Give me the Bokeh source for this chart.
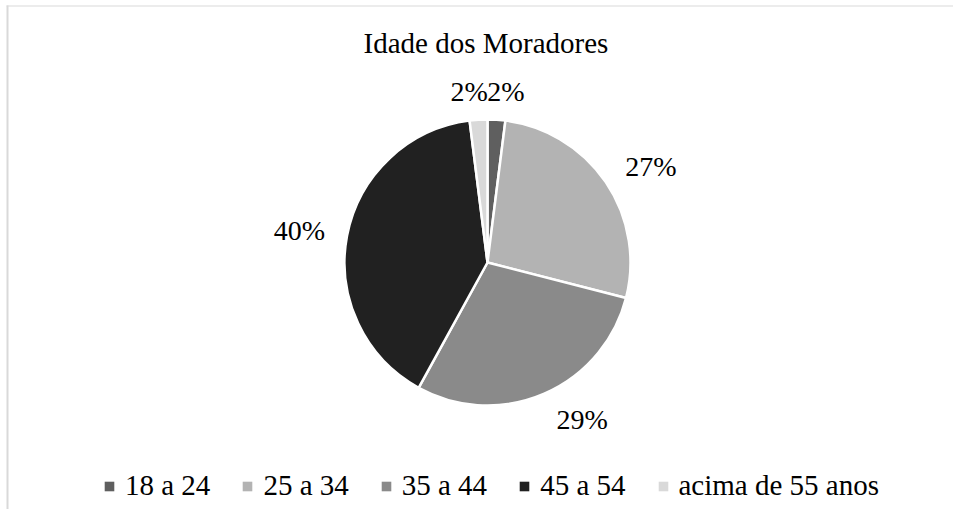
import numpy as np
from bokeh.plotting import figure
from bokeh.models import ColumnDataSource, Range1d, Legend, LegendItem
from bokeh.core.properties import value
from bokeh.embed import file_html
from bokeh.resources import INLINE

# ---- data ----
title_text = "Idade dos Moradores"
categories = ["18 a 24", "25 a 34", "35 a 44", "45 a 54", "acima de 55 anos"]
percents = [2, 27, 29, 40, 2]
colors = ["#5f5f5f", "#b3b3b3", "#8a8a8a", "#212121", "#d9d9d9"]

FONT = "Liberation Serif"
W, H = 953, 509
IMG_H = 525

p = figure(width=W, height=H, output_backend="svg", toolbar_location=None,
           x_range=Range1d(0, W), y_range=Range1d(IMG_H - H, IMG_H),
           min_border=0, outline_line_color=None)
p.axis.visible = False
p.grid.visible = False
p.background_fill_color = "white"
p.border_fill_color = "white"

# light chart-area border (left & top visible)
p.segment(x0=[7], y0=[IMG_H - H], x1=[7], y1=[IMG_H - 5],
          line_color="#d9d9d9", line_width=2)
p.segment(x0=[6], y0=[IMG_H - 5.5], x1=[W], y1=[IMG_H - 5.5],
          line_color="#d9d9d9", line_width=1)

# pie
cx, cy, R = 487, IMG_H - 262, 143
vals = np.array(percents, dtype=float)
frac = vals / vals.sum()
cum = np.concatenate([[0], np.cumsum(frac)])
start = np.pi / 2 - 2 * np.pi * cum[1:]
end = np.pi / 2 - 2 * np.pi * cum[:-1]
src = ColumnDataSource(dict(start=start, end=end, color=colors, label=categories))
p.wedge(x=cx, y=cy, radius=R, radius_units="screen", start_angle="start", end_angle="end",
        direction="anticlock", fill_color="color", line_color="white", line_width=2.5,
        source=src)

# data labels (outside end)
mid = 2 * np.pi * (cum[:-1] + cum[1:]) / 2  # clockwise from top
ux = np.sin(mid)
lx = cx + 160 * ux + 31 * np.clip(4.3 * ux, -1, 1)
ly = cy + 171 * np.cos(mid)
ltxt = [f"{v:.0f}%" for v in vals]
p.text(x=lx, y=ly, text=ltxt, text_font=value(FONT), text_font_size="28px",
       text_align="center", text_baseline="middle", text_color="black")

# title
p.text(x=[485.5], y=[IMG_H - 42], text=[title_text], text_font=value(FONT),
       text_font_size="29px", text_align="center", text_baseline="middle",
       text_color="black")

# legend
lsrc = ColumnDataSource(dict(nan=[np.nan] * len(categories), color=colors))
lr = p.quad(left="nan", right="nan", top="nan", bottom="nan", fill_color="color",
            line_color=None, source=lsrc)
items = [LegendItem(label=c, renderers=[lr], index=i) for i, c in enumerate(categories)]
legend = Legend(items=items, orientation="horizontal", location=(103, 7),
                glyph_width=12, glyph_height=12, label_standoff=10, spacing=31,
                padding=0, margin=0, border_line_color=None, background_fill_alpha=0,
                label_text_font=FONT, label_text_font_size="29px", label_text_color="black")
p.add_layout(legend, "center")

open("out.html", "w").write(file_html(p, INLINE))
